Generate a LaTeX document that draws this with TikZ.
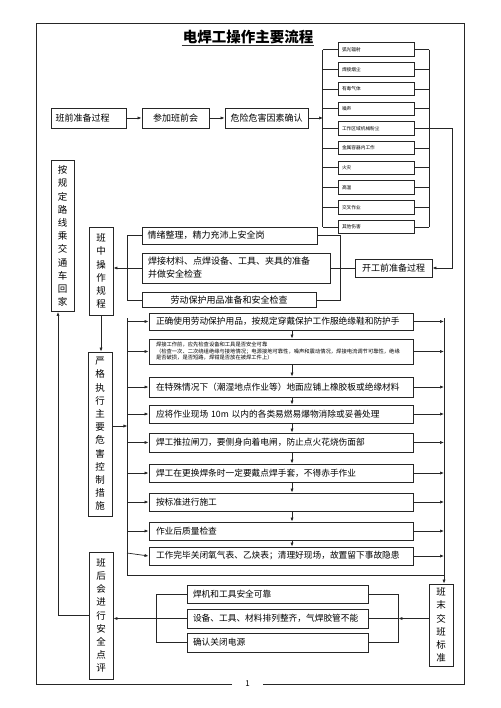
\documentclass[tikz,border=0pt]{standalone}
\usepackage{fontspec}
\setmainfont{Noto Sans CJK SC}
\usetikzlibrary{arrows.meta}
\begin{document}
\begin{tikzpicture}[x=1pt,y=-1pt,
  box/.style={draw=black!85, line width=0.9pt, inner sep=0pt, font=\fontsize{9}{11}\selectfont},
  ln/.style={draw=black!85, line width=0.7pt},
  arr/.style={ln, -{Latex[length=4pt,width=3.2pt]}},
  vbox/.style={box, minimum width=24pt, align=center, font=\fontsize{9.5}{13.2}\selectfont},
  hz/.style={box, minimum width=76pt, minimum height=13.5pt, text width=68pt, align=left, font=\fontsize{4.7}{5}\selectfont, line width=0.8pt},
  st/.style={box, minimum width=264pt, text width=250pt, align=left, font=\fontsize{8.7}{10}\selectfont},
  bt/.style={box, minimum width=181pt, text width=169pt, align=left, font=\fontsize{8.7}{10}\selectfont},
]
\useasboundingbox (0,0) rectangle (500,708);
% frame
\draw[line width=1pt, black!85] (232,684) -- (36,684) -- (36,24) -- (464,24) -- (464,684) -- (263,684);
\node[font=\fontsize{8}{9}\selectfont] (pg) at (247.5,684) {1};
% title
\node[inner sep=1pt, font=\fontsize{14.5}{16}\selectfont\bfseries] (title) at (248,37) {电焊工操作主要流程};
\draw[line width=1.2pt, black!80] (title.south west) -- (title.south east);

% top row
\node[box, minimum width=75pt, minimum height=20pt, text width=66pt, align=left] (pre) at (88.5,118) {班前准备过程};
\node[box, minimum width=67pt, minimum height=20pt] (meet) at (175.5,118) {参加班前会};
\node[box, minimum width=83pt, minimum height=20pt] (haz) at (266.5,118) {危险危害因素确认};
\coordinate (hbus) at (323,118);
\draw[arr] (pre) -- (meet);
\draw[arr] (meet) -- (haz);
\draw[arr] (haz) -- (hbus);

% hazards
\foreach \t [count=\i] in {弧光辐射,焊接烟尘,有毒气体,噪声,工作区域机械粉尘,金属容器内工作,火灾,高温,交叉作业,其他伤害}
  \node[hz] (h\i) at (376,29.9+19.7*\i) {\t};
\foreach \i in {1,...,10} {
  \draw[ln] (h\i.west) -- +(-15,0);
  \draw[ln] (h\i.east) -- +(15,0);
}
\draw[ln] ([xshift=-15pt]h1.west) -- ([xshift=-15pt]h10.west);
\draw[ln] ([xshift=15pt]h1.east) -- ([xshift=15pt]h10.east);

% start preparation
\node[box, minimum width=77pt, minimum height=18pt] (kg) at (393.5,268) {开工前准备过程};
\draw[arr] (h5.east) -- ++(38,0) |- (kg.east);

\node[box, minimum width=175pt, minimum height=17pt, text width=164pt, align=left] (emo) at (229.5,235.5) {情绪整理，精力充沛上安全岗};
\node[box, minimum width=188pt, minimum height=30pt, text width=176pt, align=left, font=\fontsize{9}{13}\selectfont] (mat) at (236,268) {焊接材料、点焊设备、工具、夹具的准备\\并做安全检查};
\node[box, minimum width=174pt, minimum height=15pt] (ppe) at (229,300) {劳动保护用品准备和安全检查};
\coordinate (rb) at (340,268);
\draw[ln] (kg.west) -- (rb);
\draw[ln] (emo.east) -| (rb);
\draw[ln] (ppe.east) -| (rb);
\draw[ln] (mat.east) -- (rb);

% vertical boxes
\node[vbox, minimum width=23pt, minimum height=151pt] (angd) at (62.5,236) {按\\规\\定\\路\\线\\乘\\交\\通\\车\\回\\家};
\node[vbox, minimum height=88pt] (zhong) at (101,271) {班\\中\\操\\作\\规\\程};
\node[vbox, minimum height=164pt] (yan) at (100,434) {严\\格\\执\\行\\主\\要\\危\\害\\控\\制\\措\\施};
\node[vbox, minimum height=127pt] (hou) at (101,615.5) {班\\后\\会\\进\\行\\安\\全\\点\\评};
\node[vbox, minimum height=82pt] (mo) at (441,625) {班\\末\\交\\班\\标\\准};

\coordinate (lb) at (127,268);
\draw[ln] (emo.west) -| (lb);
\draw[ln] (ppe.west) -| (lb);
\draw[ln] (mat.west) -- (lb);
\draw[arr] (lb) -- (zhong.east |- lb);
\draw[arr] (zhong.south) -- (zhong.south |- yan.north);

% steps
\node[st, minimum height=17pt] (s1) at (281,321.5) {正确使用劳动保护用品，按规定穿戴保护工作服绝缘鞋和防护手};
\node[st, minimum height=25pt, font=\fontsize{5.3}{6.5}\selectfont] (s2) at (281,351.5) {焊接工作前，应先检查设备和工具是否安全可靠\\（检查一次、二次绕组绝缘与接地情况；电源接地可靠性，噪声和震动情况，焊接电流调节可靠性，绝缘\\是否破损，是否短路，焊钳是否放在被焊工件上）};
\node[st, minimum height=20pt] (s3) at (281,387) {在特殊情况下（潮湿地点作业等）地面应铺上橡胶板或绝缘材料};
\node[st, minimum height=18pt] (s4) at (281,414) {应将作业现场 10m 以内的各类易燃易爆物消除或妥善处理};
\node[st, minimum height=19pt] (s5) at (281,442.5) {焊工推拉闸刀，要侧身向着电闸，防止点火花烧伤面部};
\node[st, minimum height=18pt] (s6) at (281,473) {焊工在更换焊条时一定要戴点焊手套，不得赤手作业};
\node[st, minimum height=18pt] (s7) at (281,502) {按标准进行施工};
\node[st, minimum height=18pt] (s8) at (281,531) {作业后质量检查};
\node[st, minimum height=18pt] (s9) at (281,556) {工作完毕关闭氧气表、乙炔表；清理好现场，故置留下事故隐患};

\coordinate (lt) at (127,318);
\coordinate (lbot) at (127,575);
\coordinate (rt) at (444,318);
\draw[ln] (lt) -- (lbot) -- (lbot -| rt);
\draw[arr] (rt) -- (rt |- mo.north);
\draw[arr] (yan.east) ++(0,-8) -- ++(15,0);
\foreach \i in {1,...,8} {
  \draw[arr] (s\i.west -| lt) -- (s\i.west);
}
\draw[arr] (127,553) -- (s9.west);
\foreach \i in {1,...,9} {
  \draw[arr] (s\i.east) -- (s\i.east -| rt);
}
\foreach \i/\j in {1/2,2/3,3/4,4/5,5/6,6/7,7/8,8/9} {
  \draw[arr] ([xshift=11pt]s\i.south) -- ([xshift=11pt]s\j.north);
}

% bottom
\node[bt, minimum height=18pt] (b1) at (277.5,594) {焊机和工具安全可靠};
\node[bt, minimum height=19pt] (b2) at (277.5,618.5) {设备、工具、材料排列整齐，气焊胶管不能};
\node[bt, minimum height=19pt] (b3) at (277.5,642.5) {确认关闭电源};
\draw[ln] (b1.west) -- ++(-30,0) |- (b3.west);
\draw[ln] (b2.west) -- ++(-30,0);
\draw[ln] (b1.east) -- ++(30,0) |- (b3.east);
\draw[ln] (b2.east) -- ++(30,0);
\draw[arr] (mo.west |- b2.east) -- ([xshift=30pt]b2.east);
\draw[arr] ([xshift=-30pt]b2.west) -- (hou.east |- b2.west);
\draw[arr] (hou.west) -| ([xshift=-4.5pt]angd.south);
\end{tikzpicture}
\end{document}
